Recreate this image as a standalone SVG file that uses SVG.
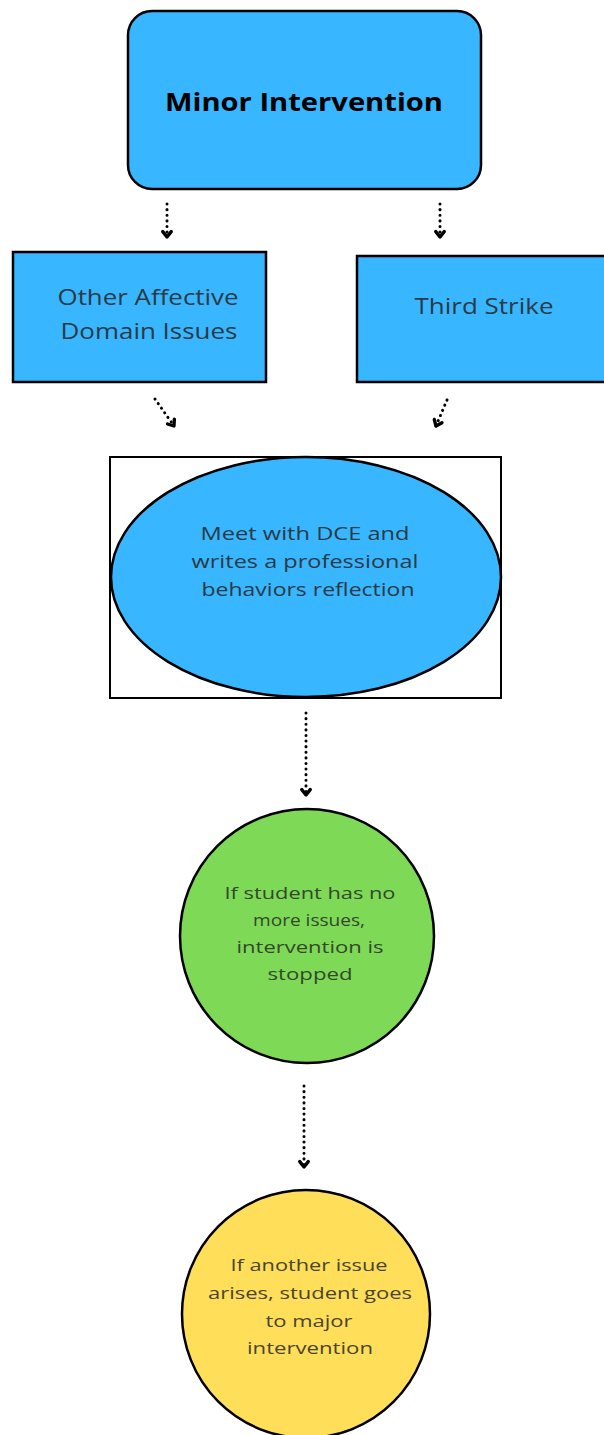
<svg xmlns="http://www.w3.org/2000/svg" width="604" height="1435" viewBox="0 0 604 1435">
<style>
.blue{fill:#38b6ff;stroke:#000;stroke-width:2.5}
.lbl{font-family:"Open Sans","Noto Sans",sans-serif;fill:#2b3a44;text-anchor:middle}
.g{fill:#34472c}
.y{fill:#4a4430}
.conn{fill:none;stroke:#000;stroke-width:3;stroke-dasharray:0.1 5.5;stroke-linecap:round}
</style>
<defs>
<marker id="ah" viewBox="0 0 10 10" refX="7" refY="5" markerWidth="4" markerHeight="4" orient="auto" markerUnits="strokeWidth">
<path d="M2.5 1.5 L7 5 L2.5 8.5" fill="none" stroke="#000" stroke-width="2.8" stroke-linecap="round" stroke-linejoin="round"/>
</marker>
</defs>
<rect width="604" height="1435" fill="#fff"/>
<g id="connectors">
<path class="conn" d="M167 204 L167 237" marker-end="url(#ah)"/>
<path class="conn" d="M440 204 L440 237" marker-end="url(#ah)"/>
<path class="conn" d="M155 399 L174 426" marker-end="url(#ah)"/>
<path class="conn" d="M447 400 L436 426" marker-end="url(#ah)"/>
<path class="conn" d="M306 713 L306 795" marker-end="url(#ah)"/>
<path class="conn" d="M304 1086 L304 1167" marker-end="url(#ah)"/>
</g>
<g id="minor">
<rect class="blue" x="128" y="11" width="353" height="178" rx="24"/>
<text x="304" y="111" font-family="'Open Sans','Noto Sans',sans-serif" font-weight="bold" font-size="25" text-anchor="middle" fill="#000" textLength="278" lengthAdjust="spacingAndGlyphs">Minor Intervention</text>
</g>
<g id="other">
<rect class="blue" x="13" y="252" width="253" height="130"/>
<text class="lbl" font-size="21" x="148" y="305" textLength="181" lengthAdjust="spacingAndGlyphs">Other Affective</text>
<text class="lbl" font-size="21" x="149" y="339" textLength="177" lengthAdjust="spacingAndGlyphs">Domain Issues</text>
</g>
<g id="third">
<rect class="blue" x="357" y="256" width="252" height="126"/>
<text class="lbl" font-size="21" x="484" y="314" textLength="139" lengthAdjust="spacingAndGlyphs">Third Strike</text>
</g>
<g id="meet">
<rect x="110" y="457" width="391" height="241" fill="#fff" stroke="#000" stroke-width="2"/>
<ellipse class="blue" cx="306" cy="577" rx="195" ry="120"/>
<text class="lbl" font-size="18" x="305" y="540" textLength="209" lengthAdjust="spacingAndGlyphs">Meet with DCE and</text>
<text class="lbl" font-size="18" x="305" y="568" textLength="227" lengthAdjust="spacingAndGlyphs">writes  a professional</text>
<text class="lbl" font-size="18" x="308" y="596" textLength="213" lengthAdjust="spacingAndGlyphs">behaviors reflection</text>
</g>
<g id="stopped">
<circle cx="307" cy="936" r="127" fill="#7ed957" stroke="#000" stroke-width="2.5"/>
<text class="lbl g" font-size="17" x="310" y="899" textLength="171" lengthAdjust="spacingAndGlyphs">If student has no</text>
<text class="lbl g" font-size="17" x="309" y="926" textLength="112" lengthAdjust="spacingAndGlyphs">more issues,</text>
<text class="lbl g" font-size="17" x="310" y="953" textLength="147" lengthAdjust="spacingAndGlyphs">intervention is</text>
<text class="lbl g" font-size="17" x="310" y="980" textLength="85" lengthAdjust="spacingAndGlyphs">stopped</text>
</g>
<g id="major">
<circle cx="306" cy="1314" r="124" fill="#ffde59" stroke="#000" stroke-width="2.5"/>
<text class="lbl y" font-size="17" x="309" y="1271" textLength="157" lengthAdjust="spacingAndGlyphs">If another issue</text>
<text class="lbl y" font-size="17" x="310" y="1299" textLength="204" lengthAdjust="spacingAndGlyphs">arises, student goes</text>
<text class="lbl y" font-size="17" x="309" y="1327" textLength="87" lengthAdjust="spacingAndGlyphs">to major</text>
<text class="lbl y" font-size="17" x="310" y="1354" textLength="126" lengthAdjust="spacingAndGlyphs">intervention</text>
</g>
</svg>
